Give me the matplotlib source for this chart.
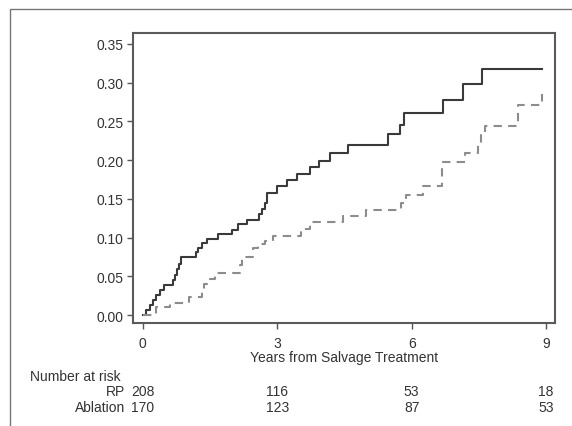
import matplotlib.pyplot as plt
import matplotlib.transforms as mtransforms
from matplotlib.patches import Rectangle

plt.rcParams['font.family'] = ['Liberation Sans', 'DejaVu Sans']

# cumulative incidence, step functions
rp_t = [0, 0.08, 0.15, 0.22, 0.30, 0.38, 0.48, 0.68, 0.72, 0.76, 0.80, 0.86,
        1.18, 1.24, 1.31, 1.43, 1.67, 1.98, 2.13, 2.33, 2.60, 2.65, 2.72, 2.77,
        3.00, 3.22, 3.43, 3.73, 3.94, 4.17, 4.57, 5.48, 5.75, 5.83, 6.70, 7.14,
        7.56, 8.91]
rp_y = [0, 0.006, 0.013, 0.019, 0.026, 0.032, 0.039, 0.045, 0.052, 0.059, 0.066,
        0.075, 0.081, 0.087, 0.093, 0.098, 0.104, 0.110, 0.117, 0.123, 0.130,
        0.137, 0.145, 0.158, 0.167, 0.174, 0.182, 0.191, 0.199, 0.209, 0.219,
        0.233, 0.245, 0.261, 0.278, 0.298, 0.318, 0.318]

abl_t = [0, 0.30, 0.60, 1.03, 1.31, 1.36, 1.50, 1.62, 2.17, 2.22, 2.46, 2.57,
         2.72, 2.91, 3.54, 3.73, 4.47, 4.99, 5.77, 5.88, 6.26, 6.67, 7.19, 7.48,
         7.55, 7.63, 8.38, 8.91]
abl_y = [0, 0.010, 0.016, 0.023, 0.030, 0.040, 0.047, 0.054, 0.064, 0.075, 0.087,
         0.092, 0.096, 0.102, 0.111, 0.120, 0.128, 0.136, 0.145, 0.155, 0.166,
         0.198, 0.209, 0.221, 0.232, 0.244, 0.271, 0.285]

risk_times = [0, 3, 6, 9]
risk_rp = [208, 116, 53, 18]
risk_abl = [170, 123, 87, 53]

fig = plt.figure(figsize=(5.72, 4.27), dpi=100)
ax = fig.add_axes([0.2325, 0.2412, 0.7378, 0.6792])

# outer frame (top and left edges visible)
fig.patches.append(Rectangle((10 / 572, -0.1), 1.2, 1 - 10 / 427 + 0.1,
                             transform=fig.transFigure, fill=False,
                             edgecolor='#777777', linewidth=1.0))

ax.step(rp_t, rp_y, where='post', color='#3a3a3a', linewidth=1.5)
ax.step(abl_t, abl_y, where='post', color='#8c8c8c', linewidth=1.5,
        dashes=(4, 3))

ax.set_xlim(-0.22, 9.2)
ax.set_ylim(-0.0103, 0.364)
ax.set_xticks(risk_times)
ax.set_yticks([0, 0.05, 0.10, 0.15, 0.20, 0.25, 0.30, 0.35])
ax.set_yticklabels(['%.2f' % v for v in ax.get_yticks()])
ax.tick_params(direction='out', length=4, width=1, color='#555555',
               labelsize=10, labelcolor='#333333', pad=3)
ax.tick_params(axis='x', pad=5)
for s in ax.spines.values():
    s.set_color('#5a5a5a')
    s.set_linewidth(1.5)
ax.set_xlabel('Years from Salvage Treatment', fontsize=10, color='#333333',
              labelpad=0)

trans = mtransforms.blended_transform_factory(ax.transData, fig.transFigure)
fig.text(30 / 572, 1 - 377 / 427, 'Number at risk', fontsize=10,
         color='#333333', va='center', ha='left')
fig.text(125 / 572, 1 - 392 / 427, 'RP', fontsize=10, color='#333333',
         va='center', ha='right')
fig.text(125 / 572, 1 - 408 / 427, 'Ablation', fontsize=10, color='#333333',
         va='center', ha='right')
for t, a, b in zip(risk_times, risk_rp, risk_abl):
    ax.text(t, 1 - 392 / 427, str(a), transform=trans, fontsize=10,
            color='#333333', va='center', ha='center')
    ax.text(t, 1 - 408 / 427, str(b), transform=trans, fontsize=10,
            color='#333333', va='center', ha='center')

fig.savefig('out.png', dpi=100)
